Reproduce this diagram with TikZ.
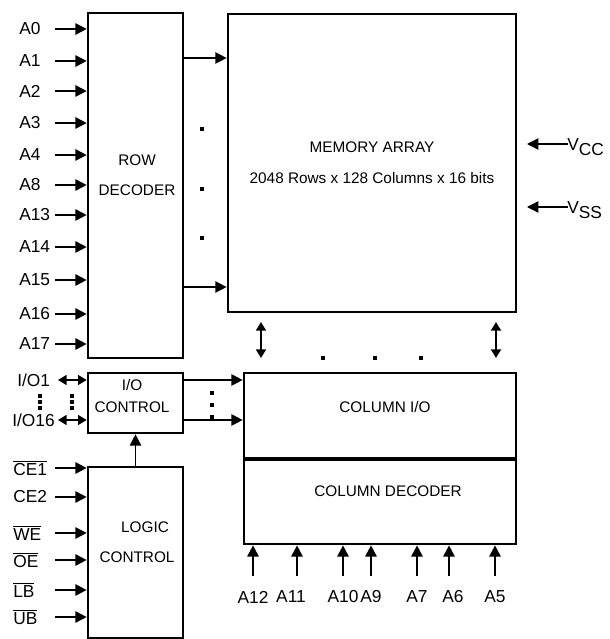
\documentclass[tikz,border=0pt]{standalone}
\usepackage{fontspec}
\setmainfont{Liberation Sans}
\usetikzlibrary{arrows.meta, positioning}

\begin{document}
\begin{tikzpicture}[x=0.75pt, y=-0.75pt,
            box/.style={rectangle, draw, line width=2pt, inner sep=0pt},
            boxtext/.style={font=\fontsize{11.5}{22.5}\selectfont, align=center, inner sep=0pt},
            pinlabel/.style={font=\fontsize{13}{15}\selectfont, inner sep=0pt},
            pin/.style={line width=1.4pt, -{Triangle[length=8.5pt, width=8.5pt]}},
            bipin/.style={line width=1.3pt, {Triangle[length=6.5pt, width=7.5pt]}-{Triangle[length=6.5pt, width=7.5pt]}},
            bus/.style={line width=1pt, -{Triangle[length=8.5pt, width=8.5pt]}},
            dot/.style={rectangle, fill, minimum size=2.8pt, inner sep=0pt}]
            \useasboundingbox (0,0) rectangle (610,639);

            % Blocks
            \node[box, minimum width=216pt, minimum height=223.5pt] (mem) at (372,163) {};
            \node[box, minimum width=71.25pt, minimum height=258.75pt] (rowdec) at (135.5,185.5) {};
            \node[box, minimum width=71.25pt, minimum height=45pt] (ioctl) at (135.5,403) {};
            \node[box, minimum width=71.25pt, minimum height=128.25pt] (logic) at (135.5,552.5) {};
            \node[box, minimum width=204pt, minimum height=63.75pt] (colio) at (380,415.5) {};
            \node[box, minimum width=204pt, minimum height=63pt] (coldec) at (380,502) {};

            \node[boxtext, font=\fontsize{11.5}{23.25}\selectfont] at (mem.center) {MEMORY ARRAY\\2048 Rows x 128 Columns x 16 bits};
            \node[boxtext] at (137,175) {ROW\\DECODER};
            \node[boxtext, font=\fontsize{11.5}{16.5}\selectfont] at (132,396) {I/O\\CONTROL};
            \node[boxtext] at (137,542) {\hspace*{12pt}LOGIC\\CONTROL};
            \node[boxtext] at (385,407) {COLUMN I/O};
            \node[boxtext] at (388,491) {COLUMN DECODER};

            % Row address inputs
            \foreach \lbl/\yy in {A0/29,A1/61,A2/91,A3/123,A4/155,A8/185,A13/215,A14/247,A15/280,A16/314,A17/344}{
                \node[pinlabel, anchor=west] (l\lbl) at (19,\yy) {\lbl};
                \coordinate (s\lbl) at (55,\yy);
                \draw[pin] (s\lbl) -- (s\lbl -| rowdec.west);
            }

            % Row decoder to array
            \coordinate (r1) at (183,58);
            \coordinate (r2) at (183,287);
            \draw[bus] (r1) -- (r1 -| mem.west);
            \draw[bus] (r2) -- (r2 -| mem.west);
            \node[dot] at (202,129) {};
            \node[dot] at (202,189) {};
            \node[dot] at (202,238) {};

            % Power
            \coordinate (vcc) at (568,144);
            \coordinate (vss) at (568,207);
            \draw[bus, line width=0.8pt] (vcc) -- ++(-41,0);
            \draw[bus, line width=0.8pt] (vss) -- ++(-41,0);
            \node[pinlabel, anchor=base west] at (567,150) {V\raisebox{-3.75pt}{CC}};
            \node[pinlabel, anchor=base west] at (567,213) {V\raisebox{-3.75pt}{SS}};

            % Array to column I/O
            \coordinate (m1) at (261,322);
            \coordinate (m2) at (496,322);
            \draw[bipin] (m1) -- ++(0,36);
            \draw[bipin] (m2) -- ++(0,36);
            \node[dot] at (323,358) {};
            \node[dot] at (375,358) {};
            \node[dot] at (421,358) {};

            % Data I/O
            \node[pinlabel, anchor=west] (lio1) at (17,380) {I/O1};
            \node[pinlabel, anchor=west] (lio16) at (12,420) {I/O16};
            \coordinate (d1) at (58,380);
            \coordinate (d2) at (58,420);
            \draw[bipin] (d1) -- (d1 -| ioctl.west);
            \draw[bipin] (d2) -- (d2 -| ioctl.west);
            \foreach \xx in {40,72}{
                \foreach \yy in {396,402,408}
                    \node[dot] at (\xx,\yy) {};
            }
            \coordinate (c1) at (183,380);
            \coordinate (c2) at (183,420);
            \draw[pin] (c1) -- (c1 -| colio.west);
            \draw[pin] (c2) -- (c2 -| colio.west);
            \foreach \yy in {393,405,417}
                \node[dot] at (212,\yy) {};

            % Control inputs
            \draw[pin] (logic.north) -- (ioctl.south);
            \foreach \name/\txt/\yy in {ce1/{$\overline{\mbox{CE1}}$}/468, ce2/CE2/497, we/{$\overline{\mbox{WE}}$}/533,
                                        oe/{$\overline{\mbox{OE}}$}/560, lb/{$\overline{\mbox{LB}}$}/590, ub/{$\overline{\mbox{UB}}$}/617}{
                \node[pinlabel, anchor=west] (l\name) at (13,\yy) {\txt};
                \coordinate (s\name) at (55,\yy);
                \draw[pin] (s\name) -- (s\name -| logic.west);
            }

            % Column address inputs
            \foreach \lbl/\xx/\lx in {A12/253/253, A11/297/291, A10/343/343, A9/371/371, A7/417/417, A6/449/453, A5/495/495}{
                \coordinate (s\lbl) at (\xx,576);
                \draw[pin] (s\lbl) -- (s\lbl |- coldec.south);
                \node[pinlabel] (l\lbl) at (\lx,597) {\lbl};
            }
        \end{tikzpicture}
\end{document}
